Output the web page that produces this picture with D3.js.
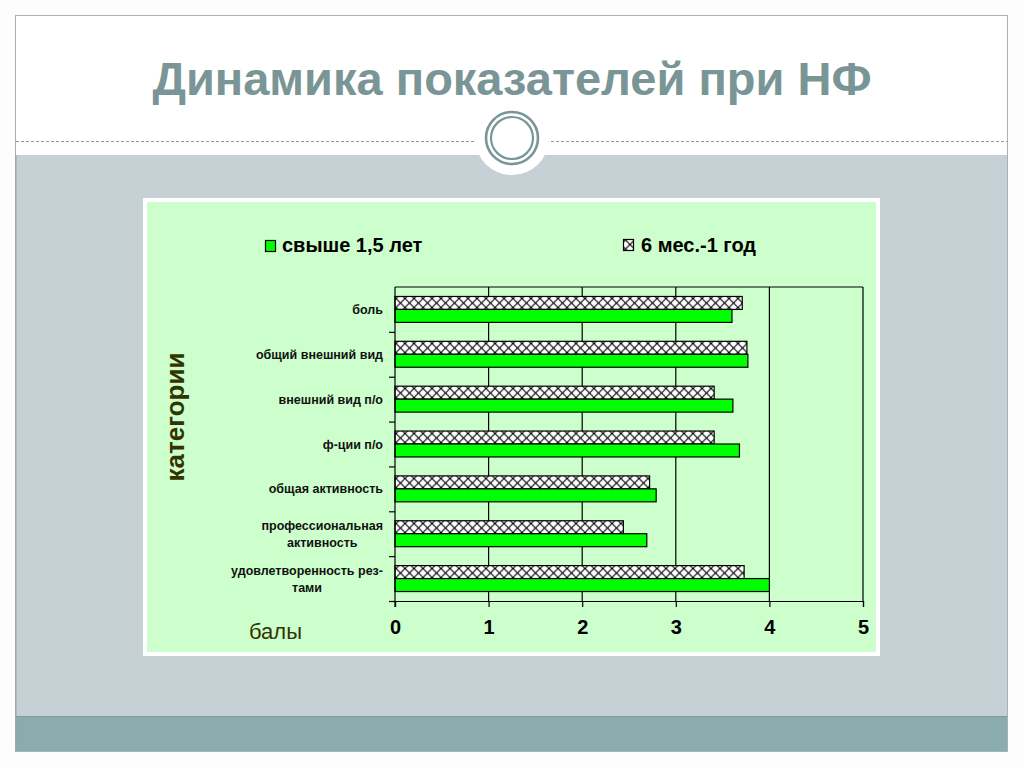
<!DOCTYPE html>
<html><head><meta charset="utf-8">
<script src="https://cdn.jsdelivr.net/npm/d3@7/dist/d3.min.js"></script>
<style>html,body{margin:0;padding:0;background:#fdfdfd;}svg{display:block;}</style>
</head><body>
<svg id="c" width="1024" height="767"></svg>
<script>
const categories = ["боль","общий внешний вид","внешний вид п/о","ф-ции п/о","общая активность","профессиональная активность","удовлетворенность рез-тами"];
const categoryLines = [["боль"],["общий внешний вид"],["внешний вид п/о"],["ф-ции п/о"],["общая активность"],["профессиональная","активность"],["удовлетворенность рез-","тами"]];
const seriesNames = ["6 мес.-1 год","свыше 1,5 лет"];
const seriesOver15 = [3.60, 3.77, 3.61, 3.68, 2.79, 2.69, 4.00];
const series6to12 = [3.71, 3.76, 3.41, 3.41, 2.72, 2.44, 3.73];
const xTicks = [0,1,2,3,4,5];
const title = "Динамика показателей при НФ";
const yTitle = "категории";
const xTitle = "балы";

const svg = d3.select("#c");
const font = "'Liberation Sans', Arial, sans-serif";

// defs: hatch pattern
const defs = svg.append("defs");
const pat = defs.append("pattern").attr("id","hatch").attr("patternUnits","userSpaceOnUse")
  .attr("width",9).attr("height",9).attr("x",0).attr("y",1.5);
pat.append("rect").attr("width",9).attr("height",9).attr("fill","#fff");
pat.append("path").attr("d","M0,0L9,9M9,0L0,9").attr("stroke","#000").attr("stroke-width",1.1);

// slide frame
svg.append("rect").attr("x",15.5).attr("y",15.5).attr("width",992).attr("height",736)
  .attr("fill","#fff").attr("stroke","#a3b3b7").attr("stroke-width",1);
svg.append("rect").attr("x",16).attr("y",155).attr("width",991).attr("height",561).attr("fill","#c6d1d6");
svg.append("rect").attr("x",16).attr("y",716).attr("width",991).attr("height",35).attr("fill","#8aacac");
svg.append("line").attr("x1",16).attr("x2",16).attr("y1",155).attr("y2",751).attr("stroke","#8fa3a8");
svg.append("line").attr("x1",16).attr("x2",1007).attr("y1",716.5).attr("y2",716.5).attr("stroke","#7f9c9c");

// dashed rule and ornament
svg.append("line").attr("x1",16).attr("x2",1007).attr("y1",141.5).attr("y2",141.5)
  .attr("stroke","#8a9a9e").attr("stroke-width",1).attr("stroke-dasharray","3,2");
svg.append("circle").attr("cx",512).attr("cy",138).attr("r",37).attr("fill","#fff");
svg.append("circle").attr("cx",512).attr("cy",138).attr("r",26).attr("fill","none").attr("stroke","#7a9595").attr("stroke-width",2.6);
svg.append("circle").attr("cx",512).attr("cy",138).attr("r",21).attr("fill","none").attr("stroke","#7a9595").attr("stroke-width",2.2);

// title
svg.append("text").attr("x",512).attr("y",95).attr("text-anchor","middle")
  .attr("font-family",font).attr("font-weight","bold").attr("font-size",47)
  .attr("fill","#7a9595").text(title);

// chart box
svg.append("rect").attr("x",145).attr("y",200).attr("width",733).attr("height",454)
  .attr("fill","#ccffcc").attr("stroke","#fff").attr("stroke-width",4);

// scales
const x = d3.scaleLinear().domain([0,5]).range([395,863]);
const y = d3.scaleBand().domain(categories).range([287,601]).paddingInner(0).paddingOuter(0);
const ys = d3.scaleBand().domain(seriesNames).range([0,y.bandwidth()]).paddingInner(0).paddingOuter(0.73);

const g = svg.append("g");
// gridlines
g.selectAll(".grid").data(xTicks.filter(t=>t>0)).join("line")
  .attr("x1",d=>x(d)).attr("x2",d=>x(d)).attr("y1",287).attr("y2",601)
  .attr("stroke","#000").attr("stroke-width",1.2);
// top border
g.append("line").attr("x1",x(0)).attr("x2",x(5)).attr("y1",287).attr("y2",287).attr("stroke","#000").attr("stroke-width",1.2);

// bars
const rows = categories.map((c,i)=>({c, v2: series6to12[i], v1: seriesOver15[i]}));
g.selectAll(".b2").data(rows).join("rect")
  .attr("x",x(0)).attr("y",d=>y(d.c)+ys(seriesNames[0]))
  .attr("width",d=>x(d.v2)-x(0)).attr("height",ys.bandwidth())
  .attr("fill","url(#hatch)").attr("stroke","#000").attr("stroke-width",1.2);
g.selectAll(".b1").data(rows).join("rect")
  .attr("x",x(0)).attr("y",d=>y(d.c)+ys(seriesNames[1]))
  .attr("width",d=>x(d.v1)-x(0)).attr("height",ys.bandwidth())
  .attr("fill","#00ff00").attr("stroke","#000").attr("stroke-width",1.2);

// x axis
const xa = svg.append("g").attr("transform","translate(0,601)")
  .call(d3.axisBottom(x).tickValues(xTicks).tickSize(6).tickPadding(13).tickFormat(d3.format("d")));
xa.select(".domain").attr("stroke","#000").attr("stroke-width",1.2);
xa.selectAll(".tick line").attr("stroke","#000").attr("stroke-width",1.2);
xa.selectAll("text").attr("font-family",font).attr("font-weight","bold").attr("font-size",20).attr("fill","#000");

// y axis (ticks at band boundaries)
const yb = d3.scaleLinear().domain([0,categories.length]).range([287,601]);
const ya = svg.append("g").attr("transform","translate(395,0)")
  .call(d3.axisLeft(yb).tickValues(d3.range(1,categories.length+1)).tickSize(6).tickFormat(""));
ya.select(".domain").attr("stroke","#000").attr("stroke-width",1.2).attr("d","M-0,287V607");
ya.selectAll(".tick line").attr("stroke","#000").attr("stroke-width",1.2);

// category labels
const lab = svg.append("g");
categories.forEach((c,i)=>{
  const lines = categoryLines[i];
  const cy = y(c) + y.bandwidth()/2;
  const t = lab.append("text").attr("font-family",font).attr("font-weight","bold").attr("font-size",12.5).attr("fill","#111");
  const n = lines.length;
  const spans = lines.map((l,k)=> t.append("tspan").attr("y", cy + (k-(n-1)/2)*17 + 4.5).text(l));
  const w = d3.max(spans, s=>s.node().getComputedTextLength());
  spans.forEach(s=>s.attr("x",383 - w/2).attr("text-anchor","middle"));
});

// axis titles
svg.append("text").attr("transform","translate(184,417) rotate(-90)").attr("text-anchor","middle")
  .attr("font-family",font).attr("font-weight","bold").attr("font-size",26).attr("fill","#333300").text(yTitle);
svg.append("text").attr("x",249).attr("y",639)
  .attr("font-family",font).attr("font-size",22).attr("fill","#333300").text(xTitle);

// legend
const lg = svg.append("g");
lg.append("rect").attr("x",265.5).attr("y",240.5).attr("width",10).attr("height",11).attr("fill","#00ff00").attr("stroke","#000").attr("stroke-width",1.2);
lg.append("text").attr("x",282).attr("y",252).attr("font-family",font).attr("font-weight","bold").attr("font-size",20).attr("fill","#000").text(seriesNames[1]);
lg.append("rect").attr("x",623.5).attr("y",239.5).attr("width",10).attr("height",11).attr("fill","url(#hatch)").attr("stroke","#000").attr("stroke-width",1.2);
lg.append("text").attr("x",641).attr("y",252).attr("font-family",font).attr("font-weight","bold").attr("font-size",20).attr("fill","#000").text(seriesNames[0]);
</script>
</body></html>
